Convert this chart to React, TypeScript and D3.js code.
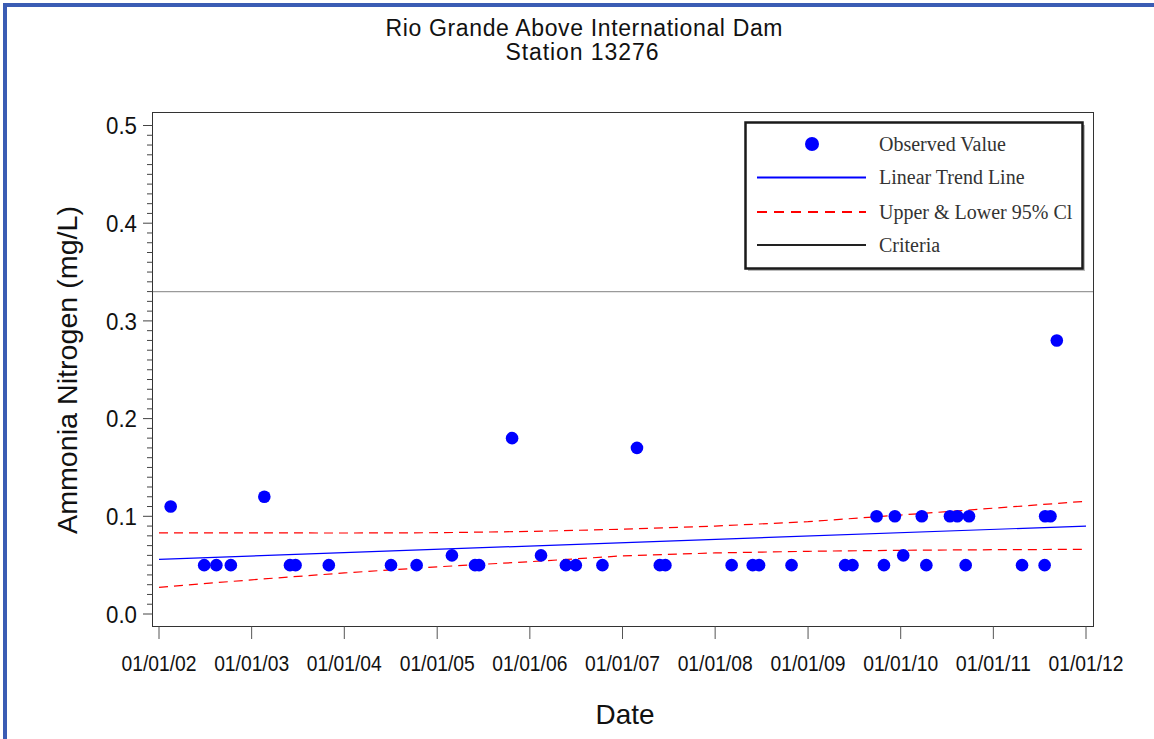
import React from "react";
import * as d3 from "d3";

// ---- data ----
const obsDates = [
  "2002-02-16", "2002-06-28", "2002-08-15", "2002-10-11", "2003-02-20", "2003-06-01",
  "2003-06-23", "2003-11-01", "2004-07-03", "2004-10-12", "2005-02-28", "2005-05-30",
  "2005-06-15", "2005-10-23", "2006-02-14", "2006-05-23", "2006-07-01", "2006-10-14",
  "2007-02-27", "2007-05-28", "2007-06-19", "2008-03-06", "2008-05-28", "2008-06-22",
  "2008-10-28", "2009-05-27", "2009-06-25", "2009-09-28", "2009-10-27", "2009-12-09",
  "2010-01-11", "2010-03-25", "2010-04-12", "2010-07-14", "2010-08-12", "2010-09-14",
  "2010-09-27", "2011-04-24", "2011-07-22", "2011-07-24", "2011-08-14", "2011-09-08",
];
const obsValues = [
  0.11, 0.05, 0.05, 0.05, 0.12, 0.05,
  0.05, 0.05, 0.05, 0.05, 0.06, 0.05,
  0.05, 0.18, 0.06, 0.05, 0.05, 0.05,
  0.17, 0.05, 0.05, 0.05, 0.05, 0.05,
  0.05, 0.05, 0.05, 0.10, 0.05, 0.10,
  0.06, 0.10, 0.05, 0.10, 0.10, 0.05,
  0.10, 0.05, 0.05, 0.10, 0.10, 0.28,
];

const trendDates = ["2002-01-01", "2012-01-01"];
const trendValues = [0.056, 0.090];

const ciDates = [
  "2002-01-01", "2003-01-01", "2004-01-01", "2005-01-01", "2006-01-01", "2007-01-01",
  "2008-01-01", "2009-01-01", "2010-01-01", "2011-01-01", "2012-01-01",
];
const ciUpper = [0.083, 0.083, 0.0829, 0.0832, 0.0845, 0.0868, 0.090, 0.0945, 0.1013, 0.1083, 0.1154];
const ciLower = [0.0273, 0.035, 0.042, 0.0483, 0.0535, 0.0595, 0.0625, 0.0642, 0.0652, 0.0658, 0.0662];

const criteriaValue = 0.33;

const xTickDates = [
  "2002-01-01", "2003-01-01", "2004-01-01", "2005-01-01", "2006-01-01", "2007-01-01",
  "2008-01-01", "2009-01-01", "2010-01-01", "2011-01-01", "2012-01-01",
];
const xTickLabels = [
  "01/01/02", "01/01/03", "01/01/04", "01/01/05", "01/01/06", "01/01/07",
  "01/01/08", "01/01/09", "01/01/10", "01/01/11", "01/01/12",
];
const yTickValues = [0, 0.1, 0.2, 0.3, 0.4, 0.5];
const yTickLabels = ["0.0", "0.1", "0.2", "0.3", "0.4", "0.5"];

const legendLabels = ["Observed Value", "Linear Trend Line", "Upper & Lower 95% Cl", "Criteria"];

const titleLines = ["Rio Grande Above International Dam", "Station 13276"];
const xTitle = "Date";
const yTitle = "Ammonia Nitrogen (mg/L)";

// ---- layout ----
const W = 1154;
const H = 739;
const frame = { left: 152.5, right: 1093.5, top: 112.5, bottom: 626.5 };
const SANS = "'Liberation Sans', Arial, Helvetica, sans-serif";
const SERIF = "'Liberation Serif', 'Times New Roman', serif";

export default function App() {
  const parse = d3.timeParse("%Y-%m-%d");
  const x = d3
    .scaleTime()
    .domain([parse("2002-01-01")!, parse("2012-01-01")!])
    .range([159, 1086]);
  const y = d3.scaleLinear().domain([0, 0.5]).range([614, 125.5]);

  const line = d3
    .line<[Date, number]>()
    .x((d) => x(d[0]))
    .y((d) => y(d[1]));

  const trend: [Date, number][] = trendDates.map((d, i) => [parse(d)!, trendValues[i]]);
  const upper: [Date, number][] = ciDates.map((d, i) => [parse(d)!, ciUpper[i]]);
  const lower: [Date, number][] = ciDates.map((d, i) => [parse(d)!, ciLower[i]]);

  const minorTicks = d3.range(0, 51).map((i) => i / 100);

  const legX0 = 757;
  const legX1 = 866;
  const legRows = [144, 177.5, 212, 245];

  return (
    <svg
      width={W}
      height={H}
      style={{ position: "absolute", left: 0, top: 0, background: "#fff" }}
      fontFamily={SANS}
    >
      <rect x={0} y={0} width={W} height={H} fill="#fff" />
      {/* blue border */}
      <rect x={3} y={3} width={W - 3} height={4} fill="#3a5cb4" />
      <rect x={3} y={3} width={4} height={H - 3} fill="#3a5cb4" />

      {/* titles */}
      <text x={584} y={36} textAnchor="middle" fontSize={23} fill="#111" textLength={397} lengthAdjust="spacing">
        {titleLines[0]}
      </text>
      <text x={582} y={60} textAnchor="middle" fontSize={23} fill="#111" textLength={153} lengthAdjust="spacing">
        {titleLines[1]}
      </text>

      {/* criteria line */}
      <line
        x1={frame.left}
        x2={frame.right}
        y1={y(criteriaValue)}
        y2={y(criteriaValue)}
        stroke="#9a9a9a"
        strokeWidth={1.2}
      />

      {/* CI lines */}
      <path d={line(upper)!} fill="none" stroke="#ff0000" strokeWidth={1.2} strokeDasharray="9,6" />
      <path d={line(lower)!} fill="none" stroke="#ff0000" strokeWidth={1.2} strokeDasharray="9,6" />
      {/* trend */}
      <path d={line(trend)!} fill="none" stroke="#0000ff" strokeWidth={1.2} />

      {/* points */}
      {obsDates.map((d, i) => (
        <circle key={i} cx={x(parse(d)!)} cy={y(obsValues[i])} r={6.3} fill="#0000ff" />
      ))}

      {/* frame */}
      <rect
        x={frame.left}
        y={frame.top}
        width={frame.right - frame.left}
        height={frame.bottom - frame.top}
        fill="none"
        stroke="#333"
        strokeWidth={1}
      />

      {/* y axis ticks */}
      {minorTicks.map((v, i) => (
        <line
          key={"m" + i}
          x1={i % 10 === 0 ? 143 : 147}
          x2={frame.left}
          y1={y(v)}
          y2={y(v)}
          stroke="#444"
          strokeWidth={1}
        />
      ))}
      {yTickValues.map((v, i) => (
        <text
          key={"yl" + i}
          x={137}
          y={y(v) + 8.6}
          textAnchor="end"
          fontSize={24}
          fill="#111"
          textLength={31}
          lengthAdjust="spacingAndGlyphs"
        >
          {yTickLabels[i]}
        </text>
      ))}

      {/* x axis ticks */}
      {xTickDates.map((d, i) => {
        const xx = x(parse(d)!);
        return (
          <g key={"xt" + i}>
            <line x1={xx} x2={xx} y1={frame.bottom} y2={639} stroke="#555" strokeWidth={1} />
            <text
              x={xx}
              y={671}
              textAnchor="middle"
              fontSize={22}
              fill="#111"
              textLength={75}
              lengthAdjust="spacingAndGlyphs"
            >
              {xTickLabels[i]}
            </text>
          </g>
        );
      })}

      {/* axis titles */}
      <text x={625} y={724} textAnchor="middle" fontSize={28} fill="#111" textLength={59} lengthAdjust="spacingAndGlyphs">
        {xTitle}
      </text>
      <text
        transform={`translate(77,370) rotate(-90)`}
        textAnchor="middle"
        fontSize={28}
        fill="#111"
        textLength={328}
        lengthAdjust="spacingAndGlyphs"
      >
        {yTitle}
      </text>

      {/* legend */}
      <rect x={748} y={125} width={337} height={146} fill="#bbb" />
      <rect x={745.5} y={122.5} width={337} height={146} fill="#fff" stroke="#1a1a1a" strokeWidth={2.5} />
      <circle cx={812} cy={legRows[0]} r={7} fill="#0000ff" />
      <line x1={legX0} x2={legX1} y1={legRows[1]} y2={legRows[1]} stroke="#0000ff" strokeWidth={2} />
      <line x1={legX0} x2={legX1} y1={legRows[2]} y2={legRows[2]} stroke="#ff0000" strokeWidth={2} strokeDasharray="10,7" />
      <line x1={legX0} x2={legX1} y1={legRows[3]} y2={legRows[3]} stroke="#222" strokeWidth={2} />
      {legendLabels.map((t, i) => (
        <text key={"lg" + i} x={879} y={legRows[i] + 6.5} fontFamily={SERIF} fontSize={20} fill="#333">
          {t}
        </text>
      ))}
    </svg>
  );
}
